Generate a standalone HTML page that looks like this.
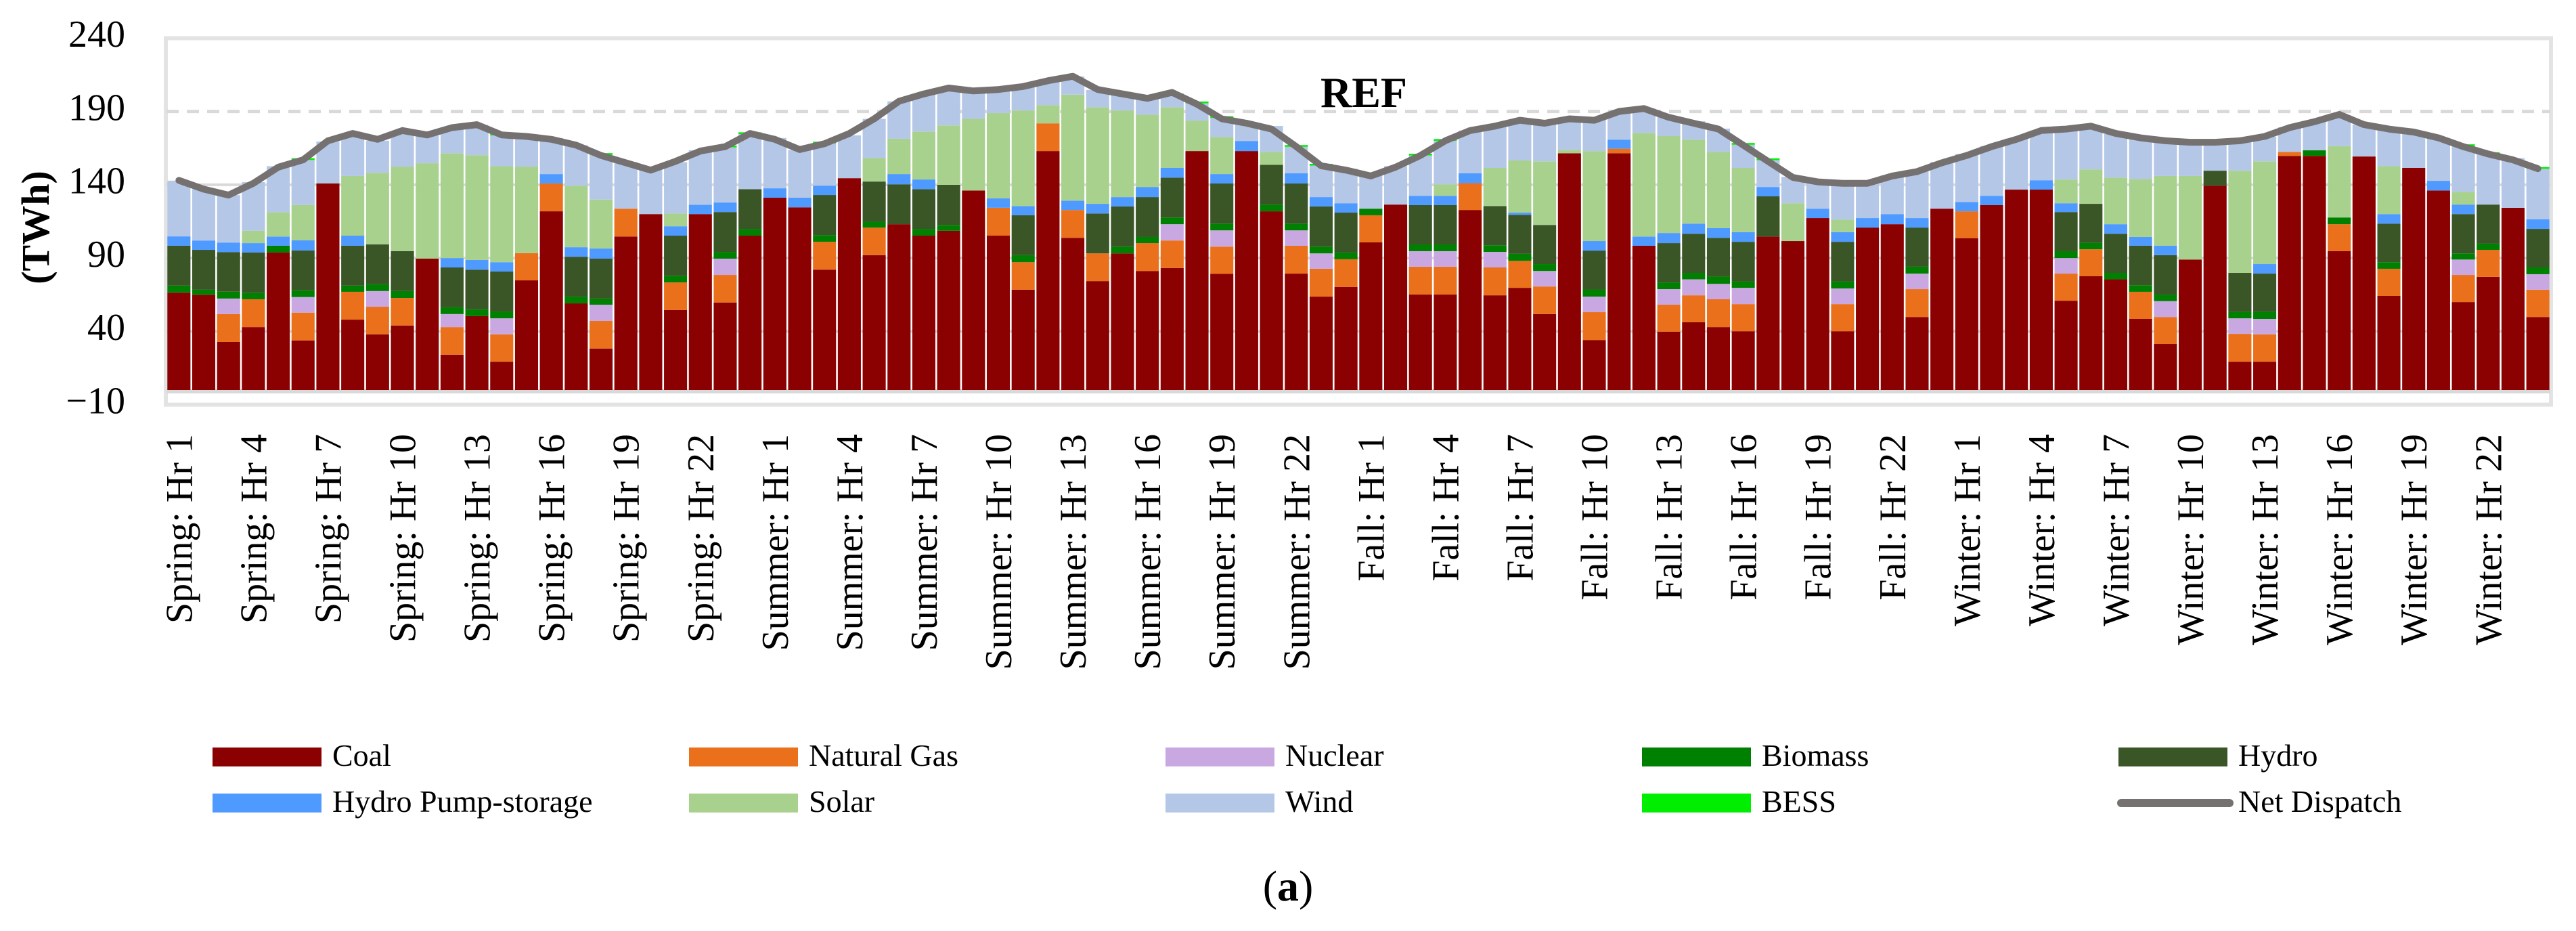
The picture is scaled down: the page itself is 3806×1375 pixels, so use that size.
<!DOCTYPE html>
<html><head><meta charset="utf-8"><style>
html,body{margin:0;padding:0;background:#fff;}
svg{display:block;font-family:"Liberation Serif",serif;}
</style></head><body>
<svg id="chart" width="3806" height="1375" viewBox="0 0 3806 1375" xmlns="http://www.w3.org/2000/svg">
<rect x="0" y="0" width="3806" height="1375" fill="#fff"/>
<g id="grid"></g>
<g id="bars"></g>
<g id="axes"></g>
<text x="0" y="0" transform="translate(72,336) rotate(-90)" text-anchor="middle" font-size="58" font-weight="bold">(TWh)</text>
<text x="1951" y="158" font-size="64" font-weight="bold">REF</text>
<g id="legend"></g>
<text x="1903" y="1330" text-anchor="middle" font-size="64">(<tspan font-weight="bold">a</tspan>)</text>
</svg>
<script>
const coal=[66.4,65,32.8,42.9,93.8,33.8,140.9,48,38,44,89.6,24.1,50.4,19.3,74.8,121.9,59.1,28.3,104.7,120,54.6,120,59.7,105.3,131.2,124.6,82.1,144.5,92,113.1,105.3,108.6,136.1,105.3,68.4,163,103.8,74.3,93.2,81.2,83.2,163,79.2,163,121.9,79.4,63.7,70.3,100.7,126.5,65.1,65.1,122.8,64.6,69.7,51.8,161.5,34.1,161.5,98.4,39.8,46.2,42.9,40.1,104.7,101.6,117.3,40.1,110.8,113.1,49.8,123.7,103.6,126.1,136.7,136.7,60.9,77.6,75.5,48.5,31.4,89,139.4,19.3,19.3,159.7,159.7,94.7,159.3,64.2,151.5,136.1,60,77.2,124.3,49.8];
const gas=[0,0,19,19,0,19,0,19,18.8,18.8,0,18.8,0,18.7,18.6,19,0,18.8,19,0,18.8,0,18.8,0,0,0,19,0,18.8,0,0,0,0,19,18.8,18.9,19,18.9,0,19,18.8,0,18.6,0,0,19,19,18.9,18.5,0,19,19,18.3,19,18.4,18.8,0,19,3.1,0,18.4,18.4,19,18.5,0,0,0,18.5,0,0,19,0,18.3,0,0,0,18.5,18.4,0,18.5,18.4,0,0,19,18.7,2.7,0,18.4,0,18.5,0,0,18.5,18.4,0,18.6];
const nuclear=[0,0,10.6,0,0,10.6,0,0,10.7,0,0,8.9,0,10.9,0,0,0,11.1,0,0,0,0,11.1,0,0,0,0,0,0,0,0,0,0,0,0,0,0,0,0,0,11.1,0,11.1,0,0,10.5,10.5,0,0,0,10.6,10.6,0,10.6,0,10.6,0,10.6,0,0,10.6,10.9,10.5,11.1,0,0,0,10.7,0,0,10.6,0,0,0,0,0,10.6,0,0,0,10.8,0,0,10.6,10.5,0,0,0,0,0,0,0,10.5,0,0,10.6];
const biomass=[4.8,3.4,4.7,4.3,4.6,4.6,0,4.2,4.6,4.7,0,4.6,4.7,4.7,0,0,4.6,4.2,0,0,4.5,0,4.6,4.6,0,0,4.6,0,4,0,4.6,4,0,0,4.8,0,0,0,4.6,4.2,4.6,0,4.6,0,4.6,4.6,4.6,4.6,4.5,0,4.6,4.6,0,4.5,4.8,4.7,0,4.9,0,0,4.6,4.4,5,4.4,0,0,0,4.8,0,0,4.7,0,0,0,0,0,4.7,4.4,4.4,4.5,4.5,0,0,4.4,4.8,0,3.8,4.6,0,4.5,0,0,4.2,4.2,0,4.6];
const hydro=[27.2,27.2,27,27.6,0,27.2,0,27.2,27.2,27.2,0,27.2,27,27.2,0,0,27.2,27.2,0,0,27.4,0,27.2,27.1,0,0,27.3,0,27.4,27.2,27.1,27.4,0,0,27.2,0,0,27.2,27.4,27.2,27.2,0,27.4,0,27.1,27.4,27.4,27.2,0,0,26.8,26.8,0,26.8,26.6,26.7,0,26.5,0,0,26.8,26.7,26.4,27,27.4,0,0,27,0,0,26.7,0,0,0,0,0,26.7,26.6,26.7,26.9,26.9,0,10.2,26.6,26.1,0,0,0,0,26.3,0,0,26.8,26.7,0,26.3];
const pump=[6.4,6.4,6.5,6.4,6.3,6.9,0,6.9,0,0,0,6.4,6.6,6.4,0,6.4,6.5,6.9,0,0,6.4,6.4,6.5,0,6.4,6.6,6.4,0,0,7,6.6,0,0,6.4,6.3,0,6.4,6.6,6.4,6.9,6.6,0,6.4,6.9,0,6.9,6.4,6.4,0,0,6.4,6.4,6.7,0,1.5,0,0,6.5,6.2,6.3,6.9,6.9,6.6,6.6,6.4,0,6.4,6.6,6.5,6.9,6.5,0,6.4,6.4,0,6.4,6,0,6.5,6,6.4,0,0,0,6.5,0,0,0,0,6.5,0,6.6,6.5,0,0,6.5];
const solar=[0,0,0,8.4,16.5,24.1,0,40.7,48.9,57.7,65.1,71.5,71.5,65.5,59,0,42,33.4,0,0,8.7,0,0,0,0,0,0,0,16,24.1,32.7,40.5,48.9,58.2,65.2,12.4,72.3,65.9,59.1,49.3,41.4,20.8,25.3,0,8.8,0,0,0,0,0,0,7.8,0,26,35.6,43.4,2.4,61.4,0,70.7,66.1,57.3,52,43.8,0,25.8,0,8.5,0,0,0,0,0,0,0,0,16.2,23.5,31.8,39.6,47.6,57,0,69.7,70.1,0,0,48.7,0,32.7,0,0,8.7,0,0,0];
const wind=[38,35,32.3,33.2,31.5,30.7,28.6,29,21.9,24,19,17.7,20.5,21,22,24.6,27.6,30.5,31.8,30,35,37.2,37.6,37.6,34.3,32.5,28.8,29.2,26.8,25.5,25.3,25.2,19.2,16.8,16.4,16.8,12.4,11.8,11.3,11.5,9.5,11.8,13,12,17.7,18.1,21.5,23.5,23.5,26.2,27.5,29.7,29.2,28.2,27,25.9,20.8,21.7,19.3,16.6,13.3,12.6,15.9,15.8,18.3,18,19,24.7,23.6,26.4,31.8,31.8,32.7,33.9,34.8,33.9,33.8,29.6,29.7,27.9,24,23.2,19.6,19.6,16.8,16.8,19.3,21,21.7,25.6,25,29.2,31.2,34.5,33.9,34.5];
const bess=[0,0,0,0,0,1.2,0,0,0,0,0,0,0,1.2,0,0,0,1.2,0,0,0,0,1.2,1.2,0,0,1.2,0,0,0,0,0,0,0,0,0,0,0,0,0,0,1.2,1.2,0,0,1.2,1.2,0,0,0,1.2,1.2,0,1.2,0,0,0,1.2,0,0,0,0,0,1.2,1.2,0,0,0,0,0,0,0,0,0,0,0,0,0,0,0,0,0,0,0,0,0,0,0,0,0,0,0,1.2,1.2,0,1.2];
const netDispatch=[143,137,133,141,152,157,170,175,171,177,174,179,181,174,173,171,167,160,155,150,156,163,166,175,171,164,168,175,185,197,202,206,204,205,207,211,214,205,202,199,203,195,185,182,178,166,153,150,146,152,160,170,177,180,184,182,185,184,190,192,186,182,178,167,156,145,142,141,141,146,149,155,160,166,171,177,178,180,175,172,170,169,169,170,173,179,183,188,181,178,176,172,166,161,157,151];
const seasons=["Spring","Summer","Fall","Winter"];
const yTicks=[-10,40,90,140,190,240];
const refValue=190;
const seriesNames=["Coal","Natural Gas","Nuclear","Biomass","Hydro","Hydro Pump-storage","Solar","Wind","BESS","Net Dispatch"];

const NS="http://www.w3.org/2000/svg";
const X0=246, X1=3768, N=coal.length, slot=(X1-X0)/N, bw=slot-2.6;
const Y0=576, K=2.165;
function y(v){return Y0-v*K;}
function xc(i){return X0+slot*(i+0.5);}
function mk(tag,attrs,parent){const e=document.createElementNS(NS,tag);for(const k in attrs)e.setAttribute(k,attrs[k]);parent.appendChild(e);return e;}
const grid=document.getElementById('grid'),bars=document.getElementById('bars'),axes=document.getElementById('axes'),legend=document.getElementById('legend');

let fr=mk('rect',{x:X0-1,y:y(240),width:X1-X0+2,height:y(-10)-y(240),fill:'none',stroke:'#e3e3e3','stroke-width':6},grid);


yTicks.forEach(t=>{
  if(t!==240&&t!==-10&&t!==refValue){
    const g=mk('line',{x1:X0,x2:X1,y1:y(t),y2:y(t),stroke:'#d9d9d9','stroke-width':4},grid);
    
    
  }
  const lb=mk('text',{x:185,y:y(t),'text-anchor':'end','dominant-baseline':'middle','font-size':56},axes);
  lb.textContent=t<0?'\u2212'+Math.abs(t):String(t);
  
  
});
const zl=mk('line',{x1:X0,x2:X1,y1:y(0)+2,y2:y(0)+2,stroke:'#d9d9d9','stroke-width':6},grid);


const rl=mk('line',{x1:X0,x2:X1,y1:y(refValue),y2:y(refValue),stroke:'#d9d9d9','stroke-width':5,'stroke-dasharray':'18 12'},grid);



const series=[coal,gas,nuclear,biomass,hydro,pump,solar,wind,bess];
const colors=["#8b0000","#ea701b","#c9a8e2","#008000","#3a5526","#4f9aff","#a9d18e","#b4c7e7","#00ee00"];
const keys=["coal","gas","nuclear","biomass","hydro","pump-storage","solar","wind","bess"];
for(let i=0;i<N;i++){
  let base=0;
  series.forEach((s,k)=>{
    const v=s[i]; if(!v) return;
    const r=mk('rect',{x:X0+slot*i+1.3,y:y(base+v),width:bw,height:v*K,fill:colors[k]},bars);
    
    
    base+=v;
  });
}
const pts=netDispatch.map((v,i)=>xc(i).toFixed(1)+','+y(v).toFixed(1)).join(' ');
const pl=mk('polyline',{points:pts,fill:'none',stroke:'#767171','stroke-width':10,'stroke-linejoin':'round','stroke-linecap':'round'},bars);



for(let i=0;i<N;i+=3){
  const t=mk('text',{x:0,y:0,transform:'translate('+(xc(i)+19).toFixed(1)+',641) rotate(-90)','text-anchor':'end','font-size':56},axes);
  t.textContent=seasons[Math.floor(i/24)]+': Hr '+(i%24+1);
  
  
}

const legColors=colors.concat(["#767171"]);
seriesNames.forEach((nm,k)=>{
  const col=k%5,row=Math.floor(k/5);
  const lx=314+col*704, ly=1104+row*68;
  const g=mk('g',{},legend);
  
  
  if(k===9){
    mk('line',{x1:lx+4,x2:lx+164,y1:ly+14,y2:ly+14,stroke:legColors[k],'stroke-width':12,'stroke-linecap':'round'},g);
  }else{
    mk('rect',{x:lx,y:ly,width:161,height:28,fill:legColors[k]},g);
  }
  const tx=mk('text',{x:lx+177,y:ly+27,'font-size':46},g);
  tx.textContent=nm;
});
</script>
</body></html>
